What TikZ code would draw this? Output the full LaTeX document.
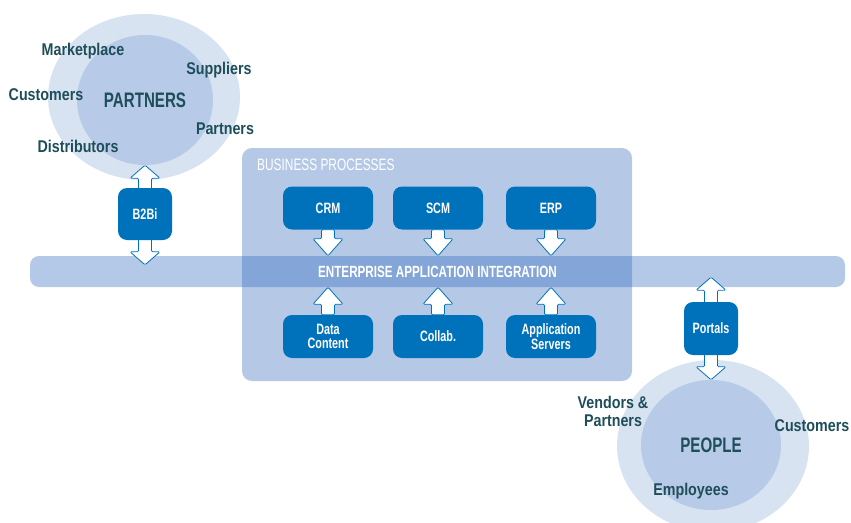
\documentclass[tikz,border=0pt]{standalone}
\usepackage{fontspec}
\setmainfont{Liberation Sans}[FakeStretch=0.84]
\newfontfamily\capsfont{Liberation Sans}[FakeStretch=0.72]
\usetikzlibrary{calc,shapes.geometric}

\definecolor{procblue}{RGB}{0,114,188}
\definecolor{lightbox}{RGB}{181,201,231}
\definecolor{ringout}{RGB}{216,227,242}
\definecolor{ringin}{RGB}{183,202,231}
\definecolor{bandblue}{RGB}{36,98,187}
\definecolor{labeltext}{RGB}{30,78,90}

\newcommand{\fatarrow}[3]{%
\coordinate (fa-h) at ($(#2)!#3!(#1)$);
\draw[arrowbody] ($(#1)!6.5pt!90:(#2)$) -- ($(fa-h)!6.5pt!90:(#2)$) -- ($(fa-h)!15pt!90:(#2)$) -- (#2) -- ($(fa-h)!15pt!-90:(#2)$) -- ($(fa-h)!6.5pt!-90:(#2)$) -- ($(#1)!6.5pt!-90:(#2)$) -- cycle;}

\newcommand{\dblarrow}[3]{%
\coordinate (da-a) at ($(#1)!#3!(#2)$);
\coordinate (da-b) at ($(#2)!#3!(#1)$);
\draw[arrowbody] (#1) -- ($(da-a)!15pt!-90:(#2)$) -- ($(da-a)!6.5pt!-90:(#2)$) -- ($(da-b)!6.5pt!-90:(#2)$) -- ($(da-b)!15pt!-90:(#2)$) -- (#2) -- ($(da-b)!15pt!90:(#2)$) -- ($(da-b)!6.5pt!90:(#2)$) -- ($(da-a)!6.5pt!90:(#2)$) -- ($(da-a)!15pt!90:(#2)$) -- cycle;}

\begin{document}
\begin{tikzpicture}[x=1pt,y=-1pt,
  arrowbody/.style={fill=white, draw=procblue, line width=0.8pt, line join=round, rounded corners=1.2pt},
  ring/.style={ellipse, inner sep=0pt, fill=ringout},
  core/.style={ellipse, inner sep=0pt, fill=ringin, text=labeltext, font=\capsfont\fontsize{21}{22}\selectfont\bfseries},
  lbl/.style={text=labeltext, align=center, inner sep=0pt, font=\fontsize{17}{18}\selectfont\bfseries},
  procbox/.style={fill=procblue, text=white, rounded corners=9pt, minimum width=90pt, minimum height=43pt, align=center, inner sep=0pt, font=\capsfont\fontsize{15}{14.5}\selectfont\bfseries},
  linkbox/.style={procbox, minimum width=54pt, minimum height=53pt}]
\useasboundingbox (0,0) rectangle (851,522);

\node[ring, minimum width=192pt, minimum height=166pt] (partners-ring) at (144,97) {};
\node[core, minimum width=136pt, minimum height=130pt] (partners) at (145,100) {PARTNERS};
\node[ring, minimum width=192pt, minimum height=172pt] (people-ring) at (713,446) {};
\node[core, minimum width=140pt, minimum height=130pt] (people) at (711,445) {PEOPLE};

\node[lbl] (marketplace) at (83,51) {Marketplace};
\node[lbl] (suppliers) at (219,70) {Suppliers};
\node[lbl] (customers-l) at (46,95) {Customers};
\node[lbl] (partners-l) at (225,129) {Partners};
\node[lbl] (distributors) at (78,146) {Distributors};
\node[lbl] (vendors) at (613,411) {Vendors \&\\Partners};
\node[lbl] (customers-r) at (812,426) {Customers};
\node[lbl] (employees) at (691,491) {Employees};

\node[fill=lightbox, rounded corners=10pt, minimum width=390pt, minimum height=233pt, inner sep=0pt] (bp) at (437,264.5) {};
\node[anchor=west, text=white, inner sep=0pt, font=\capsfont\fontsize{16.5}{16}\selectfont] (bp-title) at (257,165) {BUSINESS PROCESSES};

\node[fill=bandblue, fill opacity=0.34, text opacity=1, text=white, rounded corners=9pt, minimum width=815pt, minimum height=31pt, inner sep=0pt, font=\capsfont\fontsize{16.2}{16}\selectfont\bfseries] (eai) at (437.5,271.5) {ENTERPRISE APPLICATION INTEGRATION};

\coordinate (b2bi-end) at ($(partners.south |- eai.north)+(0,9)$);
\coordinate (portals-end) at ($(people.north |- eai.south)+(0,-10)$);
\dblarrow{partners.south}{b2bi-end}{13pt}
\dblarrow{portals-end}{people.north}{13pt}

\node[linkbox, minimum height=52pt] (b2bi) at (145,214) {B2Bi};
\node[linkbox] (portals) at (711,328.5) {Portals};

\node[procbox] (crm) at (328,208) {CRM};
\node[procbox] (scm) at (438,208) {SCM};
\node[procbox] (erp) at (551,208) {ERP};
\node[procbox] (data) at (328,336.5) {Data\\Content};
\node[procbox] (collab) at (438,336.5) {Collab.};
\node[procbox] (apps) at (551,336.5) {Application\\Servers};

\coordinate (crm-in) at (crm.south |- eai.north);
\coordinate (scm-in) at (scm.south |- eai.north);
\coordinate (erp-in) at (erp.south |- eai.north);
\coordinate (data-in) at (data.north |- eai.south);
\coordinate (collab-in) at (collab.north |- eai.south);
\coordinate (apps-in) at (apps.north |- eai.south);
\fatarrow{crm.south}{crm-in}{17pt}
\fatarrow{scm.south}{scm-in}{17pt}
\fatarrow{erp.south}{erp-in}{17pt}
\fatarrow{data.north}{data-in}{17pt}
\fatarrow{collab.north}{collab-in}{17pt}
\fatarrow{apps.north}{apps-in}{17pt}
\end{tikzpicture}
\end{document}
